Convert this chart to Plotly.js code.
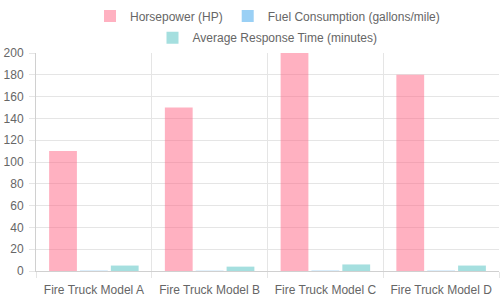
<!DOCTYPE html>
<html>
<head>
<meta charset="utf-8">
<script src="https://cdn.plot.ly/plotly-3.0.1.min.js"></script>
<style>html,body{margin:0;padding:0;background:#fff}#chart{width:500px;height:300px}</style>
</head>
<body>
<div id="chart"></div>
<script>
const categories = ["Fire Truck Model A", "Fire Truck Model B", "Fire Truck Model C", "Fire Truck Model D"];
const horsepower = [110, 150, 200, 180];
const fuelConsumption = [0.3, 0.25, 0.35, 0.3];
const responseTime = [5, 4, 6, 5];
const yTicks = [0, 20, 40, 60, 80, 100, 120, 140, 160, 180, 200];

const traces = [
  {type: "bar", name: "Horsepower (HP)", x: categories, y: horsepower, legend: "legend",
   marker: {color: "rgba(255,99,132,0.5)", line: {width: 0}}},
  {type: "bar", name: "Fuel Consumption (gallons/mile)", x: categories, y: fuelConsumption, legend: "legend",
   marker: {color: "rgba(54,162,235,0.5)", line: {width: 0}}},
  {type: "bar", name: "Average Response Time (minutes)", x: categories, y: responseTime, legend: "legend2",
   marker: {color: "rgba(75,192,192,0.5)", line: {width: 0}}}
];

const legendBase = {orientation: "h", x: 0.5, xanchor: "center", yanchor: "middle",
  font: {size: 12, color: "#666"}, itemwidth: 30, bgcolor: "rgba(0,0,0,0)"};

const layout = {
  width: 500, height: 300,
  margin: {l: 36, r: 1, t: 53, b: 29, autoexpand: false},
  paper_bgcolor: "#fff", plot_bgcolor: "#fff",
  font: {family: "Liberation Sans, Arial, sans-serif", size: 12, color: "#666"},
  barmode: "group", bargap: 0.2, bargroupgap: 0.1,
  showlegend: true,
  legend: Object.assign({}, legendBase, {y: 1.17}),
  legend2: Object.assign({}, legendBase, {y: 1.07}),
  xaxis: {type: "category", tickson: "boundaries", showgrid: true, gridcolor: "#e5e5e5",
          ticks: "outside", ticklen: 6, tickcolor: "#e5e5e5", showline: true, linecolor: "#d0d0d0",
          zeroline: false, tickfont: {size: 12, color: "#666"}, ticklabelstandoff: 8, fixedrange: true},
  yaxis: {range: [0, 200], tickvals: yTicks, showgrid: true, gridcolor: "#e5e5e5",
          ticks: "outside", ticklen: 6, tickcolor: "#e5e5e5", showline: true, linecolor: "#d0d0d0",
          zeroline: false, tickfont: {size: 12, color: "#666"}, ticklabelstandoff: 3, fixedrange: true}
};

Plotly.newPlot("chart", traces, layout, {displayModeBar: false, staticPlot: true});
</script>
</body>
</html>
